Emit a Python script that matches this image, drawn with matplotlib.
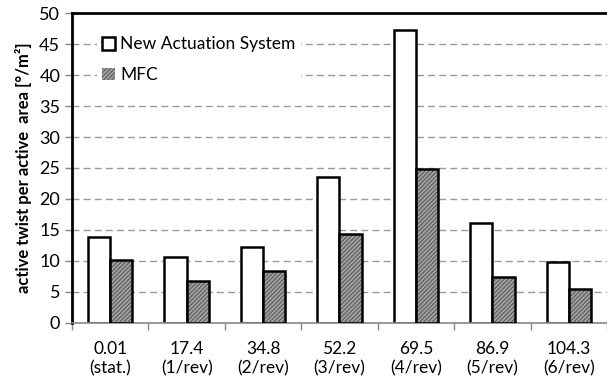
import numpy as np
import matplotlib.pyplot as plt
from matplotlib.patches import Patch

plt.rcParams['font.family'] = ['Lato', 'DejaVu Sans']
plt.rcParams['hatch.linewidth'] = 0.8

freq = ['0.01\n(stat.)', '17.4\n(1/rev)', '34.8\n(2/rev)', '52.2\n(3/rev)',
        '69.5\n(4/rev)', '86.9\n(5/rev)', '104.3\n(6/rev)']
new_system = [13.9, 10.6, 12.3, 23.6, 47.2, 16.1, 9.8]
mfc = [10.1, 6.7, 8.4, 14.4, 24.8, 7.4, 5.5]

x = np.arange(len(freq))
w = 0.29

fig = plt.figure(figsize=(6.07, 3.84), dpi=100)
ax = fig.add_axes([0.1186, 0.159, 0.8814, 0.807])

# dashed grid behind the bars
ax.yaxis.grid(True, linestyle=(0, (5, 3)), color='#9a9a9a', linewidth=1.0)
ax.set_axisbelow(True)

ax.bar(x - w / 2, new_system, w, facecolor='white', edgecolor='black',
       linewidth=1.8, zorder=2)
# MFC bars: hatched fill first, black outline on top
ax.bar(x + w / 2, mfc, w, facecolor='#a2a2a2', edgecolor='#5a5a5a',
       hatch='////////', linewidth=0, zorder=2)
ax.bar(x + w / 2, mfc, w, facecolor='none', edgecolor='black',
       linewidth=1.8, zorder=3)

ax.set_xlim(-0.5, len(freq) - 0.5)
ax.set_ylim(0, 50)
ax.set_yticks(np.arange(0, 51, 5))
ax.set_xticks(x)
ax.set_xticklabels(freq, fontsize=12.5, linespacing=1.25)
ax.tick_params(axis='x', which='major', length=0, pad=13)
ax.set_xticks(np.arange(-0.5, len(freq), 1), minor=True)
ax.tick_params(axis='x', which='minor', length=5, color='#888888', width=1)
ax.tick_params(axis='y', labelsize=13, length=5, color='#888888', width=1)

ax.spines['right'].set_visible(False)
ax.spines['top'].set_linewidth(2)
ax.spines['left'].set_linewidth(2)
ax.spines['bottom'].set_color('#888888')
ax.spines['bottom'].set_linewidth(1.2)

ax.set_ylabel('active twist per active  area [°/m²]', fontsize=12,
              fontweight='bold', labelpad=5)

handles = [Patch(facecolor='white', edgecolor='black', linewidth=1.8),
           Patch(facecolor='#a2a2a2', edgecolor='#5a5a5a', hatch='////////',
                 linewidth=0)]
leg = ax.legend(handles, ['New Actuation System', 'MFC'], loc='upper left',
                bbox_to_anchor=(0.03, 0.97), fontsize=12.5, handlelength=0.75,
                handleheight=0.75, handletextpad=0.3, labelspacing=0.85,
                frameon=True, fancybox=False, borderpad=0.3)
leg.get_frame().set_edgecolor('none')
leg.get_frame().set_alpha(1)

fig.savefig('out.png', dpi=100)
